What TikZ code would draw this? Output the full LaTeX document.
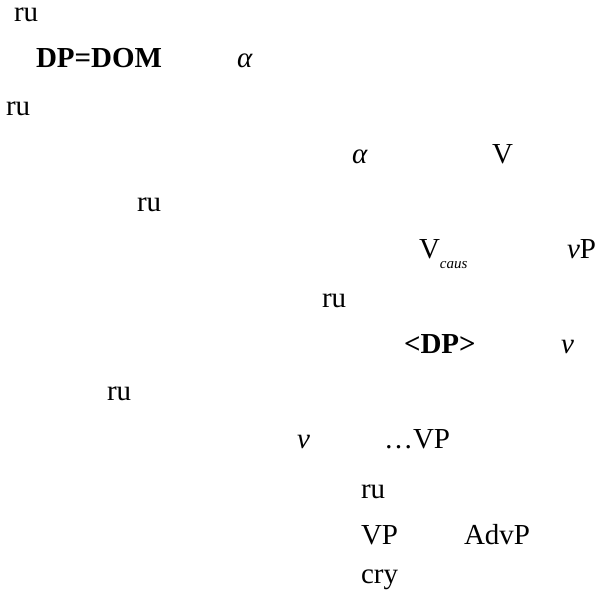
\documentclass[tikz,border=0pt]{standalone}
\usepackage{fontspec}
\setmainfont{Liberation Serif}
\begin{document}
\begin{tikzpicture}[x=1pt,y=-1pt,
  lab/.style={anchor=base west,inner sep=0pt,outer sep=0pt,font=\fontsize{29}{29}\selectfont}]
\useasboundingbox (0,0) rectangle (598,599);
\node[lab] (r1) at (14,22) {ru};
\node[lab] (dom) at (36,68) {\textbf{DP=DOM}};
\node[lab] (a1) at (237,68) {\textit{α}};
\node[lab] (r2) at (6,115) {ru};
\node[lab] (a2) at (352,163) {\textit{α}};
\node[lab] (V) at (492,163) {V};
\node[lab] (r3) at (137,211) {ru};
\node[lab] (Vc) at (419,258) {V\raisebox{-10pt}{\fontsize{15}{15}\selectfont\itshape caus}};
\node[lab] (vP) at (567,258) {\textit{v}P};
\node[lab] (r4) at (322,307) {ru};
\node[lab] (dp) at (404,353) {\textbf{<DP>}};
\node[lab] (v1) at (561,353) {\textit{v}};
\node[lab] (r5) at (107,400) {ru};
\node[lab] (v2) at (297,448) {\textit{v}};
\node[lab] (vp1) at (384,448) {…VP};
\node[lab] (r6) at (361,498) {ru};
\node[lab] (vp2) at (361,544) {VP};
\node[lab] (adv) at (464,544) {AdvP};
\node[lab] (cry) at (361,583) {cry};
\end{tikzpicture}
\end{document}
